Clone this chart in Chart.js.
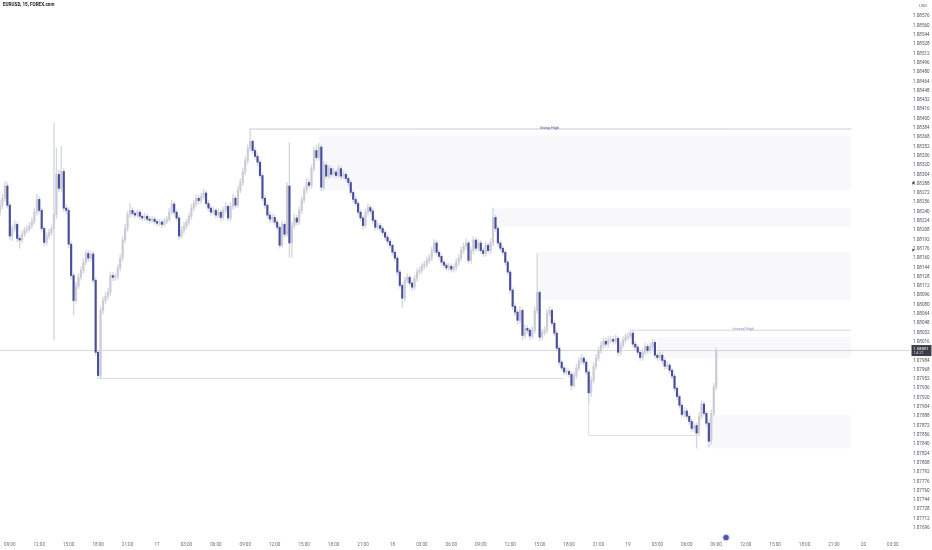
<!DOCTYPE html>
<html>
<head>
<meta charset="utf-8">
<script src="https://cdn.jsdelivr.net/npm/chart.js@4.4.1/dist/chart.umd.min.js"></script>
<style>
html, body { margin: 0; padding: 0; background: #fff; }
#wrap { position: relative; width: 932px; height: 550px; }
</style>
</head>
<body>
<div id="wrap"><canvas id="chart"></canvas></div>
<script>
// EURUSD 15m, first bar = day 16 08:00
const startDay = 16;
const startHour = 8;
const slotCount = 372; // bars + empty space on the right

const opens = [
1.08239,1.08251,1.08263,1.08284,1.08251,1.08198,1.08211,1.08218,1.08194,1.08191,
1.08201,1.08208,1.08210,1.08216,1.08222,1.08239,1.08261,1.08242,1.08211,1.08187,
1.08198,1.08204,1.08211,1.08235,1.08304,1.08280,1.08309,1.08246,1.08242,1.08184,
1.08130,1.08087,1.08112,1.08127,1.08139,1.08153,1.08168,1.08160,1.08167,1.08122,
1.07998,1.07958,1.08070,1.08087,1.08094,1.08101,1.08130,1.08127,1.08129,1.08143,
1.08160,1.08191,1.08211,1.08235,1.08242,1.08237,1.08234,1.08239,1.08232,1.08229,
1.08232,1.08227,1.08225,1.08227,1.08223,1.08220,1.08222,1.08218,1.08223,1.08227,
1.08239,1.08253,1.08239,1.08229,1.08198,1.08208,1.08215,1.08222,1.08232,1.08246,
1.08254,1.08263,1.08259,1.08266,1.08272,1.08254,1.08246,1.08239,1.08242,1.08234,
1.08239,1.08230,1.08242,1.08249,1.08229,1.08249,1.08263,1.08251,1.08277,1.08290,
1.08308,1.08328,1.08349,1.08361,1.08345,1.08335,1.08325,1.08302,1.08263,1.08251,
1.08234,1.08227,1.08230,1.08222,1.08213,1.08182,1.08218,1.08201,1.08284,1.08186,
1.08216,1.08229,1.08222,1.08242,1.08260,1.08277,1.08290,1.08285,1.08314,1.08345,
1.08333,1.08351,1.08282,1.08320,1.08301,1.08314,1.08304,1.08308,1.08302,1.08314,
1.08301,1.08304,1.08297,1.08290,1.08273,1.08261,1.08254,1.08239,1.08229,1.08216,
1.08239,1.08247,1.08241,1.08225,1.08213,1.08216,1.08211,1.08204,1.08196,1.08189,
1.08182,1.08170,1.08160,1.08136,1.08113,1.08091,1.08122,1.08127,1.08117,1.08110,
1.08125,1.08136,1.08139,1.08146,1.08149,1.08156,1.08160,1.08173,1.08186,1.08170,
1.08163,1.08153,1.08148,1.08143,1.08146,1.08141,1.08144,1.08153,1.08160,1.08173,
1.08180,1.08186,1.08156,1.08173,1.08191,1.08177,1.08186,1.08173,1.08168,1.08182,
1.08173,1.08186,1.08230,1.08211,1.08186,1.08177,1.08170,1.08153,1.08136,1.08105,
1.08077,1.08067,1.08053,1.08070,1.08027,1.08039,1.08036,1.08026,1.08036,1.08070,
1.08101,1.08024,1.08032,1.08036,1.08065,1.08070,1.08048,1.08031,1.08005,1.07981,
1.07971,1.07964,1.07965,1.07960,1.07941,1.07958,1.07971,1.07983,1.07988,1.07981,
1.07964,1.07928,1.07950,1.07974,1.07988,1.08001,1.08010,1.08017,1.08012,1.08019,
1.08020,1.08017,1.08022,1.07998,1.08010,1.08019,1.08024,1.08026,1.08031,1.08012,
1.08007,1.07998,1.07989,1.07998,1.08008,1.08001,1.08008,1.08015,1.07993,1.07989,
1.07993,1.07984,1.07974,1.07976,1.07967,1.07957,1.07936,1.07922,1.07907,1.07891,
1.07897,1.07888,1.07879,1.07867,1.07872,1.07859,1.07888,1.07909,1.07893,1.07876,
1.07845,1.07893,1.07938
];
const highs = [
1.08260,1.08270,1.08292,1.08290,1.08255,1.08217,1.08224,1.08222,1.08199,1.08207,
1.08213,1.08216,1.08221,1.08229,1.08246,1.08270,1.08266,1.08246,1.08215,1.08204,
1.08210,1.08217,1.08392,1.08349,1.08312,1.08352,1.08314,1.08252,1.08247,1.08188,
1.08134,1.08118,1.08133,1.08145,1.08159,1.08174,1.08173,1.08172,1.08171,1.08126,
1.08002,1.08076,1.08093,1.08101,1.08108,1.08136,1.08135,1.08134,1.08149,1.08166,
1.08197,1.08218,1.08241,1.08254,1.08247,1.08241,1.08244,1.08243,1.08236,1.08237,
1.08236,1.08231,1.08232,1.08231,1.08227,1.08226,1.08226,1.08228,1.08232,1.08245,
1.08260,1.08257,1.08243,1.08233,1.08214,1.08221,1.08227,1.08238,1.08252,1.08260,
1.08269,1.08268,1.08272,1.08279,1.08276,1.08259,1.08250,1.08248,1.08246,1.08245,
1.08243,1.08248,1.08256,1.08253,1.08255,1.08270,1.08267,1.08284,1.08297,1.08315,
1.08334,1.08355,1.08382,1.08364,1.08350,1.08340,1.08329,1.08306,1.08268,1.08255,
1.08239,1.08236,1.08235,1.08227,1.08217,1.08224,1.08222,1.08290,1.08358,1.08222,
1.08235,1.08234,1.08248,1.08266,1.08283,1.08297,1.08295,1.08320,1.08351,1.08354,
1.08358,1.08355,1.08326,1.08324,1.08320,1.08318,1.08314,1.08312,1.08320,1.08318,
1.08310,1.08308,1.08301,1.08294,1.08277,1.08266,1.08258,1.08243,1.08233,1.08245,
1.08253,1.08251,1.08245,1.08229,1.08221,1.08220,1.08215,1.08208,1.08200,1.08193,
1.08186,1.08174,1.08164,1.08140,1.08117,1.08128,1.08133,1.08131,1.08121,1.08131,
1.08142,1.08145,1.08152,1.08155,1.08162,1.08166,1.08179,1.08192,1.08190,1.08174,
1.08167,1.08157,1.08152,1.08151,1.08150,1.08149,1.08159,1.08166,1.08179,1.08186,
1.08193,1.08190,1.08179,1.08197,1.08195,1.08192,1.08190,1.08178,1.08188,1.08186,
1.08193,1.08246,1.08234,1.08215,1.08190,1.08181,1.08174,1.08157,1.08140,1.08109,
1.08082,1.08071,1.08077,1.08074,1.08045,1.08044,1.08040,1.08042,1.08076,1.08168,
1.08105,1.08038,1.08042,1.08071,1.08076,1.08074,1.08052,1.08035,1.08009,1.07985,
1.07975,1.07970,1.07969,1.07964,1.07964,1.07977,1.07989,1.07994,1.07992,1.07985,
1.07968,1.07956,1.07980,1.07994,1.08007,1.08016,1.08023,1.08022,1.08025,1.08026,
1.08025,1.08028,1.08026,1.08016,1.08025,1.08030,1.08032,1.08036,1.08035,1.08017,
1.08011,1.08002,1.08004,1.08014,1.08012,1.08014,1.08021,1.08019,1.07997,1.07999,
1.07997,1.07988,1.07982,1.07980,1.07971,1.07961,1.07940,1.07926,1.07911,1.07903,
1.07901,1.07892,1.07883,1.07878,1.07876,1.07894,1.07915,1.07913,1.07897,1.07880,
1.07899,1.07944,1.08006
];
const lows = [
1.08232,1.08245,1.08258,1.08246,1.08192,1.08190,1.08206,1.08188,1.08177,1.08186,
1.08197,1.08203,1.08205,1.08211,1.08218,1.08234,1.08237,1.08206,1.08180,1.08182,
1.08193,1.08199,1.08019,1.08228,1.08274,1.08275,1.08240,1.08236,1.08178,1.08124,
1.08062,1.08082,1.08107,1.08122,1.08134,1.08148,1.08154,1.08155,1.08117,1.07992,
1.07953,1.07952,1.08064,1.08082,1.08089,1.08096,1.08121,1.08122,1.08124,1.08138,
1.08155,1.08186,1.08206,1.08230,1.08232,1.08229,1.08230,1.08227,1.08224,1.08225,
1.08222,1.08220,1.08221,1.08218,1.08215,1.08216,1.08212,1.08214,1.08219,1.08223,
1.08235,1.08234,1.08224,1.08192,1.08194,1.08203,1.08210,1.08217,1.08227,1.08241,
1.08249,1.08253,1.08254,1.08261,1.08249,1.08240,1.08234,1.08235,1.08229,1.08230,
1.08224,1.08226,1.08237,1.08224,1.08225,1.08244,1.08246,1.08247,1.08272,1.08285,
1.08303,1.08323,1.08344,1.08340,1.08330,1.08319,1.08297,1.08258,1.08246,1.08229,
1.08221,1.08222,1.08217,1.08208,1.08177,1.08178,1.08196,1.08197,1.08161,1.08161,
1.08211,1.08217,1.08218,1.08237,1.08255,1.08272,1.08279,1.08280,1.08309,1.08328,
1.08328,1.08276,1.08277,1.08296,1.08297,1.08299,1.08300,1.08297,1.08298,1.08296,
1.08297,1.08292,1.08285,1.08268,1.08256,1.08249,1.08234,1.08224,1.08210,1.08212,
1.08234,1.08236,1.08220,1.08208,1.08209,1.08206,1.08199,1.08191,1.08184,1.08177,
1.08165,1.08155,1.08131,1.08108,1.08075,1.08086,1.08117,1.08112,1.08104,1.08106,
1.08120,1.08131,1.08134,1.08141,1.08144,1.08151,1.08155,1.08168,1.08165,1.08158,
1.08148,1.08143,1.08138,1.08138,1.08136,1.08136,1.08139,1.08148,1.08155,1.08168,
1.08175,1.08151,1.08151,1.08168,1.08172,1.08172,1.08168,1.08163,1.08163,1.08168,
1.08168,1.08181,1.08206,1.08181,1.08172,1.08165,1.08148,1.08131,1.08100,1.08071,
1.08061,1.08046,1.08048,1.08019,1.08022,1.08030,1.08020,1.08021,1.08031,1.08065,
1.08018,1.08019,1.08027,1.08031,1.08060,1.08043,1.08026,1.08000,1.07976,1.07966,
1.07959,1.07959,1.07955,1.07933,1.07937,1.07953,1.07966,1.07978,1.07976,1.07959,
1.07910,1.07922,1.07945,1.07969,1.07983,1.07996,1.08005,1.08007,1.08007,1.08014,
1.08012,1.08012,1.07993,1.07993,1.08005,1.08014,1.08019,1.08021,1.08007,1.08002,
1.07993,1.07984,1.07984,1.07993,1.07996,1.07996,1.08003,1.07988,1.07984,1.07984,
1.07979,1.07969,1.07969,1.07962,1.07952,1.07931,1.07917,1.07902,1.07886,1.07886,
1.07883,1.07874,1.07862,1.07862,1.07833,1.07854,1.07883,1.07888,1.07871,1.07835,
1.07840,1.07888,1.07933
];
const closes = [
1.08251,1.08263,1.08284,1.08251,1.08198,1.08211,1.08218,1.08194,1.08191,1.08201,
1.08208,1.08210,1.08216,1.08222,1.08239,1.08261,1.08242,1.08211,1.08187,1.08198,
1.08204,1.08211,1.08235,1.08304,1.08280,1.08309,1.08246,1.08242,1.08184,1.08130,
1.08087,1.08112,1.08127,1.08139,1.08153,1.08168,1.08160,1.08167,1.08122,1.07998,
1.07958,1.08070,1.08087,1.08094,1.08101,1.08130,1.08127,1.08129,1.08143,1.08160,
1.08191,1.08211,1.08235,1.08242,1.08237,1.08234,1.08239,1.08232,1.08229,1.08232,
1.08227,1.08225,1.08227,1.08223,1.08220,1.08222,1.08218,1.08223,1.08227,1.08239,
1.08253,1.08239,1.08229,1.08198,1.08208,1.08215,1.08222,1.08232,1.08246,1.08254,
1.08263,1.08259,1.08266,1.08272,1.08254,1.08246,1.08239,1.08242,1.08234,1.08239,
1.08230,1.08242,1.08249,1.08229,1.08249,1.08263,1.08251,1.08277,1.08290,1.08308,
1.08328,1.08349,1.08361,1.08345,1.08335,1.08325,1.08302,1.08263,1.08251,1.08234,
1.08227,1.08230,1.08222,1.08213,1.08182,1.08218,1.08201,1.08284,1.08186,1.08216,
1.08229,1.08222,1.08242,1.08260,1.08277,1.08290,1.08285,1.08314,1.08345,1.08333,
1.08351,1.08282,1.08320,1.08301,1.08314,1.08304,1.08308,1.08302,1.08314,1.08301,
1.08304,1.08297,1.08290,1.08273,1.08261,1.08254,1.08239,1.08229,1.08216,1.08239,
1.08247,1.08241,1.08225,1.08213,1.08216,1.08211,1.08204,1.08196,1.08189,1.08182,
1.08170,1.08160,1.08136,1.08113,1.08091,1.08122,1.08127,1.08117,1.08110,1.08125,
1.08136,1.08139,1.08146,1.08149,1.08156,1.08160,1.08173,1.08186,1.08170,1.08163,
1.08153,1.08148,1.08143,1.08146,1.08141,1.08144,1.08153,1.08160,1.08173,1.08180,
1.08186,1.08156,1.08173,1.08191,1.08177,1.08186,1.08173,1.08168,1.08182,1.08173,
1.08186,1.08230,1.08211,1.08186,1.08177,1.08170,1.08153,1.08136,1.08105,1.08077,
1.08067,1.08053,1.08070,1.08027,1.08039,1.08036,1.08026,1.08036,1.08070,1.08101,
1.08024,1.08032,1.08036,1.08065,1.08070,1.08048,1.08031,1.08005,1.07981,1.07971,
1.07964,1.07965,1.07960,1.07941,1.07958,1.07971,1.07983,1.07988,1.07981,1.07964,
1.07928,1.07950,1.07974,1.07988,1.08001,1.08010,1.08017,1.08012,1.08019,1.08020,
1.08017,1.08022,1.07998,1.08010,1.08019,1.08024,1.08026,1.08031,1.08012,1.08007,
1.07998,1.07989,1.07998,1.08008,1.08001,1.08008,1.08015,1.07993,1.07989,1.07993,
1.07984,1.07974,1.07976,1.07967,1.07957,1.07936,1.07922,1.07907,1.07891,1.07897,
1.07888,1.07879,1.07867,1.07872,1.07859,1.07888,1.07909,1.07893,1.07876,1.07845,
1.07893,1.07938,1.08001
];

// price scale
const priceMax = 1.08604;
const priceMin = 1.07682;
const tickTop = 1.08576;
const tickStep = 0.00016;

// shaded zones (bar index from, bar index to, upper price, lower price)
const zoneFrom = [130, 201, 219, 268, 288];
const zoneTo = [347, 347, 347, 347, 347];
const zoneTop = [1.08371, 1.08246, 1.08170, 1.08024, 1.07890];
const zoneBottom = [1.08277, 1.08213, 1.08088, 1.07988, 1.07833];

// structure lines
const levelNames = ["Swing High", "", "Internal High", ""];
const levelFrom = [102, 40, 257, 240];
const levelTo = [347, 230, 347, 284.5];
const levelPrice = [1.08382, 1.07953, 1.08036, 1.07855];
const levelLabelAt = [224, 0, 303, 0];
const levelColors = ["#b9bcc7", "#d3d5dc", "#ccceE8", "#d3d5dc"];
const cornerIndex = 240;
const cornerPrice = 1.07928;

const alertPrices = [1.08289, 1.08174];
const eventIndex = 296;

const upColor = "#caccd5";
const downColor = "#484d9d";
const wickColor = "#d5d7df";

const timeLabels = [];
for (let i = 0; i < slotCount; i++) {
  const mins = startHour * 60 + i * 15;
  const day = startDay + Math.floor(mins / 1440);
  const m = mins % 1440;
  const hh = String(Math.floor(m / 60)).padStart(2, "0");
  const mm = String(m % 60).padStart(2, "0");
  timeLabels.push(day + " " + hh + ":" + mm);
}

const priceTicks = [];
for (let j = 0; tickTop - j * tickStep >= priceMin; j++) {
  priceTicks.push(Math.round((tickTop - j * tickStep) * 100000) / 100000);
}

const bodyColors = closes.map((c, i) => (c >= opens[i] ? upColor : downColor));

const overlayPlugin = {
  id: "overlays",
  beforeDatasetsDraw(chart) {
    const { ctx, chartArea } = chart;
    const xs = chart.scales.x, ys = chart.scales.y;
    ctx.save();
    ctx.fillStyle = "rgba(130,134,155,0.055)";
    for (let i = 0; i < zoneFrom.length; i++) {
      const x1 = xs.getPixelForValue(zoneFrom[i]);
      const x2 = xs.getPixelForValue(zoneTo[i]);
      const y1 = ys.getPixelForValue(zoneTop[i]);
      const y2 = ys.getPixelForValue(zoneBottom[i]);
      ctx.fillRect(x1, y1, x2 - x1, y2 - y1);
    }
    // last price line
    const lastY = ys.getPixelForValue(closes[closes.length - 1]);
    ctx.strokeStyle = "#c3c5cd";
    ctx.lineWidth = 0.7;
    ctx.beginPath();
    ctx.moveTo(chartArea.left, lastY);
    ctx.lineTo(chartArea.right, lastY);
    ctx.stroke();
    ctx.restore();
  },
  afterDatasetsDraw(chart) {
    const { ctx } = chart;
    const xs = chart.scales.x, ys = chart.scales.y;
    ctx.save();
    ctx.lineWidth = 0.8;
    for (let i = 0; i < levelFrom.length; i++) {
      const y = ys.getPixelForValue(levelPrice[i]);
      ctx.strokeStyle = levelColors[i];
      ctx.beginPath();
      ctx.moveTo(xs.getPixelForValue(levelFrom[i]), y);
      ctx.lineTo(xs.getPixelForValue(levelTo[i]), y);
      ctx.stroke();
      if (levelNames[i]) {
        ctx.font = "3.8px Roboto";
        ctx.fillStyle = i === 0 ? "#4a4f8c" : "#8a8fd0";
        ctx.textAlign = "center";
        ctx.textBaseline = "bottom";
        ctx.fillText(levelNames[i], xs.getPixelForValue(levelLabelAt[i]), y + 0.5);
      }
    }
    // vertical leg of the lower box
    const cx = xs.getPixelForValue(cornerIndex);
    ctx.strokeStyle = "#d3d5dc";
    ctx.beginPath();
    ctx.moveTo(cx, ys.getPixelForValue(cornerPrice));
    ctx.lineTo(cx, ys.getPixelForValue(levelPrice[3]));
    ctx.stroke();
    ctx.restore();
  },
  afterDraw(chart) {
    const { ctx, chartArea } = chart;
    const xs = chart.scales.x, ys = chart.scales.y;
    ctx.save();
    // title + currency
    ctx.font = "bold 4.6px Roboto";
    ctx.fillStyle = "#131722";
    ctx.textAlign = "left";
    ctx.textBaseline = "middle";
    ctx.fillText("EURUSD, 15, FOREX.com", 3, 5);
    ctx.font = "4.2px Roboto";
    ctx.fillStyle = "#5d606b";
    ctx.fillText("USD", 919, 5.5);
    // alert markers
    ctx.fillStyle = "#131722";
    alertPrices.forEach(p => {
      const y = ys.getPixelForValue(p);
      ctx.beginPath();
      ctx.moveTo(chartArea.right + 2.5, y - 1.6);
      ctx.lineTo(chartArea.right + 4.6, y);
      ctx.lineTo(chartArea.right + 2.5, y + 1.6);
      ctx.closePath();
      ctx.fill();
    });
    // last price box
    const last = closes[closes.length - 1];
    const ly = ys.getPixelForValue(last);
    ctx.fillStyle = "#3b3e4a";
    ctx.fillRect(chartArea.right + 1.5, ly - 5.5, 20, 11);
    ctx.fillStyle = "#ffffff";
    ctx.font = "4.2px Roboto";
    ctx.fillText(last.toFixed(5), chartArea.right + 3.5, ly - 1.8);
    ctx.fillStyle = "#c9cbd2";
    ctx.fillText("14:21", chartArea.right + 3.5, ly + 2.6);
    // event marker
    const ex = xs.getPixelForValue(eventIndex);
    const ey = chartArea.bottom + 1.5;
    ctx.fillStyle = "rgba(92,104,190,0.35)";
    ctx.beginPath();
    ctx.arc(ex, ey, 3.6, 0, Math.PI * 2);
    ctx.fill();
    ctx.fillStyle = "#4b57a8";
    ctx.beginPath();
    ctx.arc(ex, ey, 2.6, 0, Math.PI * 2);
    ctx.fill();
    ctx.restore();
  }
};

const ctx = document.getElementById("chart").getContext("2d");
const candleChart = new Chart(ctx, {
  type: "bar",
  data: {
    labels: timeLabels,
    datasets: [
      {
        label: "wicks",
        data: lows.map((l, i) => [l, highs[i]]),
        backgroundColor: wickColor,
        barThickness: 0.7,
        grouped: false,
        order: 2
      },
      {
        label: "bodies",
        data: opens.map((o, i) => [o, closes[i]]),
        backgroundColor: bodyColors,
        barThickness: 1.5,
        minBarLength: 0.8,
        grouped: false,
        order: 1
      }
    ]
  },
  options: {
    responsive: true,
    maintainAspectRatio: false,
    animation: false,
    layout: { padding: { top: 0, left: 0, right: 0, bottom: 2 } },
    plugins: { legend: { display: false }, tooltip: { enabled: false } },
    scales: {
      x: {
        type: "category",
        offset: false,
        grid: { display: false, drawTicks: false },
        border: { display: false },
        afterFit: axis => {
          axis.height = 12;
          axis.paddingLeft = 0;
          axis.paddingRight = 0;
        },
        ticks: {
          autoSkip: false,
          maxRotation: 0,
          padding: 6,
          color: "#6b6e79",
          font: { size: 4.6, family: "Roboto" },
          callback: function (value) {
            const lab = this.getLabelForValue(value);
            const parts = lab.split(" ");
            const hm = parts[1].split(":");
            if (hm[1] !== "00" || Number(hm[0]) % 3 !== 0) return "";
            return hm[0] === "00" ? parts[0] : parts[1];
          }
        }
      },
      y: {
        position: "right",
        min: priceMin,
        max: priceMax,
        grid: { display: false, drawTicks: false },
        border: { display: false },
        afterBuildTicks: axis => { axis.ticks = priceTicks.map(v => ({ value: v })); },
        afterFit: axis => {
          axis.width = 22;
          axis.paddingTop = 0;
          axis.paddingBottom = 0;
        },
        ticks: {
          autoSkip: false,
          padding: 3,
          color: "#50535e",
          font: { size: 4.6, family: "Roboto" },
          callback: v => Number(v).toFixed(5)
        }
      }
    }
  },
  plugins: [overlayPlugin]
});
</script>
</body>
</html>
